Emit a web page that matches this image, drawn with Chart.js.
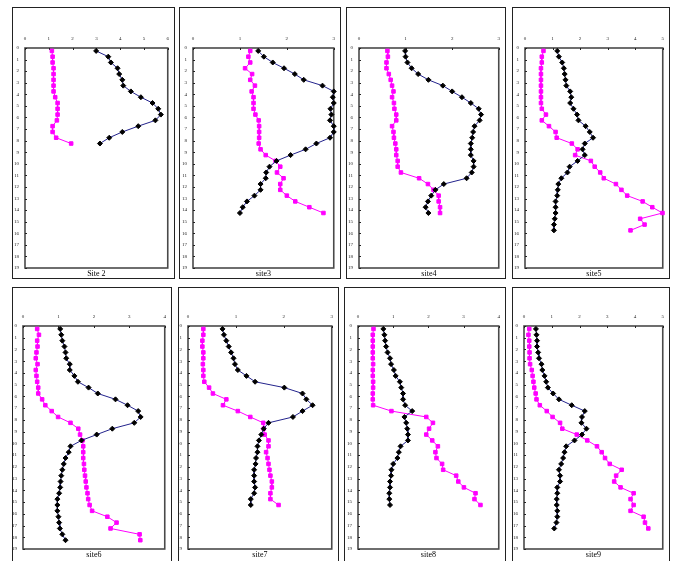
<!DOCTYPE html>
<html>
<head>
<meta charset="utf-8">
<script src="https://cdn.jsdelivr.net/npm/chart.js@4.4.0/dist/chart.umd.min.js"></script>
<style>
  body { margin: 0; background: #fff; width: 674px; height: 561px; overflow: hidden; position: relative; }
  canvas { position: absolute; }
</style>
</head>
<body>
<script>
// sampling depths (y axis, 0 at top)
const depths = [0.25, 0.75, 1.25, 1.75, 2.25, 2.75, 3.25, 3.75, 4.25, 4.75, 5.25, 5.75, 6.25, 6.75,
  7.25, 7.75, 8.25, 8.75, 9.25, 9.75, 10.25, 10.75, 11.25, 11.75, 12.25, 12.75, 13.25, 13.75,
  14.25, 14.75, 15.25, 15.75, 16.25, 16.75, 17.25, 17.75, 18.25];

const siteNames = ['Site 2', 'site3', 'site4', 'site5', 'site6', 'site7', 'site8', 'site9'];
const xMax = [6, 3, 3, 5, 4, 3, 4, 5];
const yTicks = [0, 19];

// black diamonds
const blackSite2 = [2.99, 3.50, 3.61, 3.89, 3.96, 4.09, 4.13, 4.45, 4.87, 5.36, 5.60, 5.71, 5.48, 4.76, 4.09, 3.54, 3.15];
const blackSite3 = [1.39, 1.51, 1.70, 1.94, 2.17, 2.36, 2.76, 3.0, 2.98, 3.0, 2.93, 2.95, 2.92, 3.0, 3.0, 2.92, 2.63, 2.40, 2.08, 1.78, 1.63, 1.56, 1.55, 1.44, 1.44, 1.31, 1.15, 1.06, 1.0];
const blackSite4 = [0.99, 1.0, 1.04, 1.13, 1.27, 1.49, 1.80, 2.0, 2.21, 2.40, 2.57, 2.62, 2.59, 2.48, 2.45, 2.43, 2.40, 2.40, 2.40, 2.46, 2.46, 2.42, 2.31, 1.82, 1.64, 1.55, 1.48, 1.43, 1.49];
const blackSite5 = [1.17, 1.23, 1.35, 1.41, 1.44, 1.47, 1.50, 1.64, 1.68, 1.64, 1.76, 1.89, 1.94, 2.20, 2.35, 2.47, 2.17, 2.09, 2.17, 1.91, 1.62, 1.54, 1.32, 1.21, 1.19, 1.17, 1.11, 1.11, 1.11, 1.08, 1.05, 1.05];
const blackSite6 = [1.05, 1.08, 1.11, 1.17, 1.20, 1.22, 1.32, 1.32, 1.45, 1.55, 1.85, 2.11, 2.61, 2.95, 3.25, 3.32, 3.14, 2.52, 2.08, 1.65, 1.34, 1.29, 1.20, 1.15, 1.11, 1.08, 1.06, 1.05, 1.02, 0.97, 0.97, 0.97, 1.0, 1.02, 1.04, 1.11, 1.20];
const blackSite7 = [0.72, 0.75, 0.80, 0.85, 0.90, 0.95, 0.98, 1.04, 1.22, 1.40, 2.01, 2.39, 2.47, 2.60, 2.39, 2.19, 1.68, 1.58, 1.53, 1.48, 1.45, 1.45, 1.42, 1.41, 1.38, 1.38, 1.38, 1.40, 1.38, 1.31, 1.31];
const blackSite8 = [0.72, 0.75, 0.77, 0.80, 0.84, 0.91, 0.94, 1.02, 1.07, 1.19, 1.23, 1.28, 1.28, 1.34, 1.54, 1.32, 1.37, 1.40, 1.42, 1.42, 1.21, 1.16, 1.12, 1.00, 0.95, 0.94, 0.91, 0.91, 0.89, 0.89, 0.91];
const blackSite9 = [0.43, 0.45, 0.47, 0.47, 0.51, 0.54, 0.63, 0.66, 0.74, 0.80, 0.86, 1.05, 1.26, 1.72, 2.19, 2.09, 2.07, 2.25, 2.09, 1.82, 1.52, 1.46, 1.41, 1.34, 1.26, 1.30, 1.30, 1.20, 1.20, 1.18, 1.18, 1.20, 1.20, 1.17, 1.09];

// magenta squares
const pinkSite2 = [1.13, 1.16, 1.16, 1.20, 1.20, 1.20, 1.20, 1.20, 1.27, 1.37, 1.37, 1.37, 1.34, 1.16, 1.16, 1.31, 1.94];
const pinkSite3 = [1.22, 1.18, 1.22, 1.11, 1.26, 1.22, 1.32, 1.25, 1.29, 1.29, 1.29, 1.33, 1.40, 1.41, 1.41, 1.41, 1.40, 1.44, 1.55, 1.76, 1.86, 1.79, 1.93, 1.86, 1.86, 2.0, 2.18, 2.48, 2.78];
const pinkSite4 = [0.61, 0.62, 0.59, 0.59, 0.64, 0.68, 0.71, 0.74, 0.71, 0.75, 0.76, 0.80, 0.80, 0.71, 0.74, 0.75, 0.78, 0.80, 0.80, 0.83, 0.83, 0.90, 1.29, 1.48, 1.60, 1.71, 1.71, 1.74, 1.74];
const pinkSite5 = [0.67, 0.61, 0.61, 0.58, 0.58, 0.58, 0.58, 0.58, 0.58, 0.58, 0.61, 0.76, 0.61, 0.87, 1.11, 1.15, 1.70, 1.91, 1.82, 2.39, 2.53, 2.73, 2.86, 3.30, 3.50, 3.71, 4.27, 4.62, 4.99, 4.18, 4.34, 3.83];
const pinkSite6 = [0.40, 0.45, 0.40, 0.41, 0.38, 0.36, 0.41, 0.36, 0.38, 0.40, 0.43, 0.43, 0.54, 0.63, 0.81, 0.99, 1.34, 1.56, 1.61, 1.68, 1.70, 1.70, 1.70, 1.72, 1.73, 1.75, 1.77, 1.79, 1.82, 1.84, 1.88, 1.95, 2.38, 2.64, 2.47, 3.29, 3.31];
const pinkSite7 = [0.32, 0.32, 0.30, 0.30, 0.32, 0.32, 0.31, 0.32, 0.32, 0.34, 0.44, 0.52, 0.80, 0.73, 1.04, 1.30, 1.57, 1.58, 1.60, 1.68, 1.68, 1.63, 1.66, 1.68, 1.70, 1.72, 1.75, 1.75, 1.72, 1.72, 1.89];
const pinkSite8 = [0.44, 0.42, 0.42, 0.42, 0.42, 0.42, 0.43, 0.42, 0.42, 0.43, 0.43, 0.42, 0.42, 0.43, 0.95, 1.94, 2.13, 2.02, 1.94, 2.11, 2.27, 2.20, 2.23, 2.39, 2.42, 2.79, 2.85, 3.01, 3.34, 3.31, 3.48];
const pinkSite9 = [0.19, 0.16, 0.19, 0.19, 0.20, 0.20, 0.22, 0.28, 0.31, 0.34, 0.37, 0.42, 0.45, 0.57, 0.82, 1.03, 1.30, 1.38, 1.90, 2.28, 2.63, 2.80, 2.92, 3.09, 3.52, 3.32, 3.25, 3.48, 3.95, 3.84, 3.95, 3.84, 4.31, 4.36, 4.48];

const blackSeries = [blackSite2, blackSite3, blackSite4, blackSite5, blackSite6, blackSite7, blackSite8, blackSite9];
const pinkSeries = [pinkSite2, pinkSite3, pinkSite4, pinkSite5, pinkSite6, pinkSite7, pinkSite8, pinkSite9];

// panel boxes on the page: outer frame + plot area (page px)
const boxes = [
  { left: 12, top: 7, w: 163, h: 272, pl: 25, pt: 48, pr: 169, pb: 268 },
  { left: 179, top: 7, w: 162, h: 272, pl: 193, pt: 48, pr: 337, pb: 268 },
  { left: 346, top: 7, w: 160, h: 272, pl: 359, pt: 48, pr: 502, pb: 268 },
  { left: 512, top: 7, w: 158, h: 272, pl: 525, pt: 48, pr: 666, pb: 268 },
  { left: 12, top: 287, w: 160, h: 278, pl: 23, pt: 326, pr: 169, pb: 549 },
  { left: 178, top: 287, w: 161, h: 278, pl: 188, pt: 326, pr: 335, pb: 549 },
  { left: 344, top: 287, w: 162, h: 278, pl: 358, pt: 326, pr: 502, pb: 549 },
  { left: 512, top: 287, w: 158, h: 278, pl: 524, pt: 326, pr: 667, pb: 549 }
];

const tickFont = { family: 'Liberation Serif', size: 5 };

const framePlugin = {
  id: 'frame',
  beforeDatasetsDraw(chart) {
    const { ctx, chartArea: a, scales } = chart;
    ctx.save();
    ctx.strokeStyle = '#4a4a4a';
    ctx.lineWidth = 1.6;
    ctx.strokeRect(a.left, a.top, a.right - a.left, a.bottom - a.top);
    // small inside tick marks
    ctx.lineWidth = 1;
    ctx.strokeStyle = '#222';
    ctx.beginPath();
    scales.x.ticks.forEach(t => {
      const px = Math.round(scales.x.getPixelForValue(t.value)) + 0.5;
      ctx.moveTo(px, a.top);
      ctx.lineTo(px, a.top + 2);
    });
    scales.y.ticks.forEach(t => {
      const py = Math.round(scales.y.getPixelForValue(t.value)) + 0.5;
      ctx.moveTo(a.left, py);
      ctx.lineTo(a.left + 2, py);
    });
    ctx.stroke();
    ctx.restore();
  },
  afterDraw(chart) {
    const { ctx, chartArea: a } = chart;
    ctx.save();
    ctx.strokeStyle = '#222';
    ctx.lineWidth = 1;
    ctx.strokeRect(0.5, 0.5, chart.width - 1, chart.height - 1);
    ctx.fillStyle = '#000';
    ctx.font = '8px "Liberation Serif"';
    ctx.textAlign = 'center';
    ctx.textBaseline = 'middle';
    ctx.fillText(chart.options.siteName, (a.left + a.right) / 2, a.bottom + 5.5);
    ctx.restore();
  }
};

function toPoints(vals) {
  return vals.map((v, k) => ({ x: v, y: depths[k] }));
}

function makePanel(i) {
  const g = boxes[i];
  const canvas = document.createElement('canvas');
  canvas.width = g.w;
  canvas.height = g.h;
  canvas.style.left = g.left + 'px';
  canvas.style.top = g.top + 'px';
  canvas.style.width = g.w + 'px';
  canvas.style.height = g.h + 'px';
  document.body.appendChild(canvas);

  new Chart(canvas, {
    type: 'scatter',
    data: {
      datasets: [{
        data: toPoints(blackSeries[i]),
        showLine: true,
        borderColor: '#23238c',
        borderWidth: 1,
        pointStyle: 'rectRot',
        pointRadius: 2.5,
        pointBackgroundColor: '#000',
        pointBorderColor: '#000',
        pointBorderWidth: 1,
        clip: false
      }, {
        data: toPoints(pinkSeries[i]),
        showLine: true,
        borderColor: '#ff00ff',
        borderWidth: 1,
        pointStyle: 'rect',
        pointRadius: 2.5,
        pointBackgroundColor: '#ff00ff',
        pointBorderColor: '#ff00ff',
        pointBorderWidth: 1,
        clip: false
      }]
    },
    options: {
      siteName: siteNames[i],
      responsive: false,
      animation: false,
      events: [],
      layout: {
        padding: { left: 0, top: 0, right: g.left + g.w - g.pr, bottom: g.top + g.h - g.pb }
      },
      plugins: { legend: { display: false }, tooltip: { enabled: false } },
      scales: {
        x: {
          type: 'linear',
          position: 'top',
          min: 0,
          max: xMax[i],
          ticks: { stepSize: 1, font: tickFont, color: '#222', padding: 6, maxRotation: 0 },
          grid: { display: false, drawTicks: false },
          border: { display: false },
          afterFit: s => { s.height = g.pt - g.top; }
        },
        y: {
          type: 'linear',
          reverse: true,
          min: yTicks[0],
          max: yTicks[1],
          ticks: { stepSize: 1, font: tickFont, color: '#222', padding: 6, autoSkip: false },
          grid: { display: false, drawTicks: false },
          border: { display: false },
          afterFit: s => { s.width = g.pl - g.left; }
        }
      }
    },
    plugins: [framePlugin]
  });
}

window.onload = () => {
  for (let i = 0; i < boxes.length; i++) makePanel(i);
};
</script>
</body>
</html>
